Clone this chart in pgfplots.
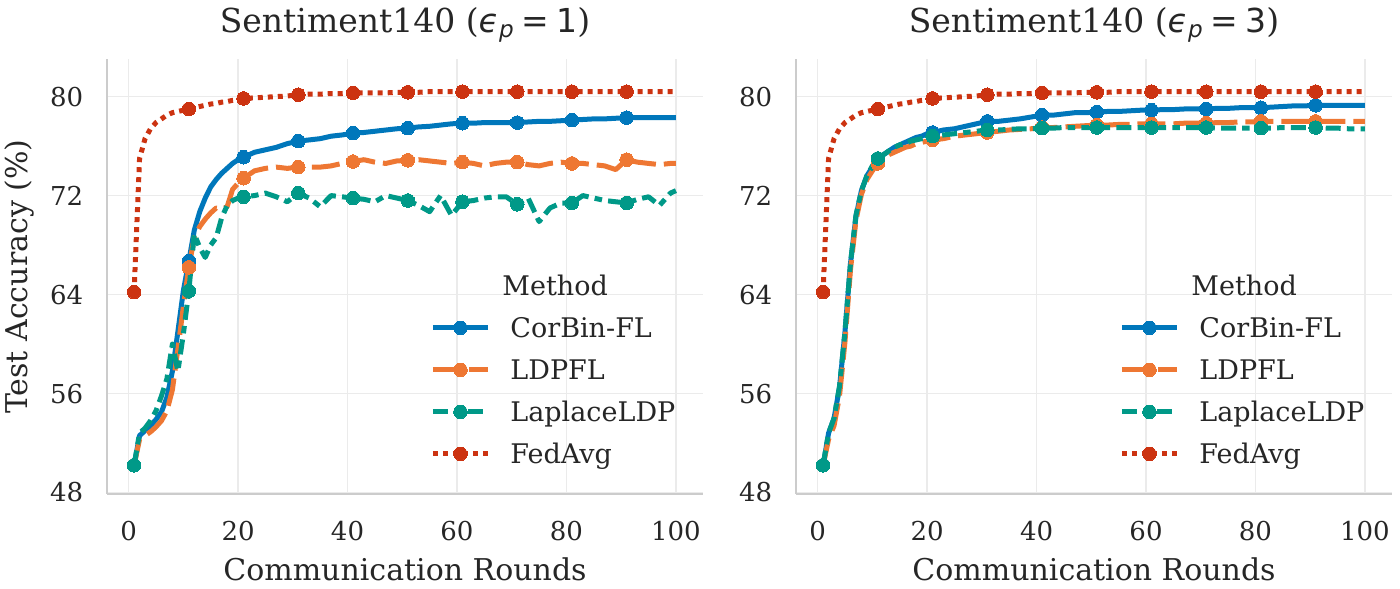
\documentclass[border=0pt]{standalone}
\usepackage{pgfplots}
\pgfplotsset{compat=1.18}
\usepackage{pgfplotstable}
\usepackage{fontspec}
\setmainfont{DejaVu Serif}
\newfontfamily\mathsans{DejaVu Sans}

\definecolor{cbBlue}{HTML}{0077BB}
\definecolor{cbOrange}{HTML}{EE7733}
\definecolor{cbTeal}{HTML}{009988}
\definecolor{cbRed}{HTML}{CC3311}
\definecolor{gridgray}{HTML}{EBEBEB}
\definecolor{spinegray}{HTML}{CCCCCC}
\definecolor{txt}{HTML}{262626}

% test accuracy (%) per communication round, eps_p = 1
\pgfplotstableread{
r fa cb ld la
1 64.2 50.2 50.2 50.2
2 75.0 52.6 52.3 52.8
3 76.6 53.0 52.6 53.2
4 77.4 53.4 52.9 53.8
5 77.9 53.9 53.3 54.6
6 78.2 54.5 53.8 55.8
7 78.5 55.7 54.6 57.2
8 78.7 57.8 56.3 60.0
9 78.8 61.0 59.6 57.8
10 78.9 64.3 63.0 60.8
11 79.0 66.7 66.2 64.3
12 79.1 69.2 68.6 68.9
13 79.2 70.7 69.5 67.8
14 79.3 71.8 70.1 67.0
15 79.4 72.7 70.6 68.0
16 79.45 73.3 71.0 68.6
17 79.55 73.8 70.9 70.2
18 79.6 74.2 71.1 71.2
19 79.7 74.6 72.5 71.6
20 79.75 74.9 73.0 71.8
21 79.85 75.1 73.4 71.9
23 79.9 75.5 74.0 72.0
25 79.95 75.7 74.2 72.2
27 80.0 75.9 74.3 71.9
29 80.05 76.2 74.2 71.5
31 80.15 76.4 74.3 72.2
33 80.2 76.5 74.3 71.8
35 80.2 76.6 74.3 71.1
37 80.25 76.8 74.4 72.0
39 80.25 76.9 74.6 71.9
41 80.3 77.05 74.75 71.8
43 80.3 77.1 74.9 71.7
45 80.3 77.2 74.7 71.5
47 80.3 77.3 74.6 72.0
49 80.35 77.4 74.8 71.8
51 80.35 77.45 74.85 71.6
53 80.35 77.55 74.9 71.2
55 80.4 77.6 74.8 70.7
57 80.4 77.7 74.7 72.0
59 80.4 77.8 74.6 70.4
61 80.4 77.85 74.7 71.5
63 80.4 77.85 74.6 71.6
65 80.4 77.9 74.4 71.8
67 80.4 77.9 74.6 71.9
69 80.4 77.9 74.7 71.9
71 80.4 77.9 74.7 71.3
73 80.4 77.95 74.5 71.8
75 80.4 78.0 74.4 69.9
77 80.4 78.0 74.6 71.0
79 80.4 78.05 74.7 71.4
81 80.4 78.1 74.6 71.4
83 80.4 78.15 74.6 72.0
85 80.4 78.2 74.5 71.8
87 80.4 78.2 74.4 71.6
89 80.4 78.25 74.1 71.5
91 80.4 78.3 74.9 71.4
93 80.4 78.3 74.7 71.7
95 80.4 78.3 74.6 71.9
97 80.4 78.3 74.5 71.2
99 80.4 78.3 74.6 72.2
100 80.4 78.3 74.6 72.4
}\epsone

% test accuracy (%) per communication round, eps_p = 3
\pgfplotstableread{
r fa cb ld la
1 64.2 50.2 50.2 50.2
2 75.0 52.8 52.3 52.8
3 76.6 54.0 53.4 54.0
4 77.4 56.5 55.8 56.6
5 77.9 61.0 60.2 61.0
6 78.2 66.5 66.0 66.5
7 78.5 70.3 70.0 70.4
8 78.7 72.4 72.1 72.4
9 78.8 73.6 73.3 73.6
10 78.9 74.3 74.0 74.4
11 79.0 74.9 74.6 75.0
12 79.1 75.3 75.0 75.3
13 79.2 75.6 75.3 75.6
14 79.3 75.9 75.5 75.9
15 79.4 76.1 75.7 76.1
16 79.45 76.3 75.9 76.2
17 79.55 76.5 76.0 76.4
18 79.6 76.7 76.2 76.5
19 79.7 76.8 76.3 76.6
20 79.75 77.0 76.4 76.7
21 79.85 77.1 76.5 76.8
23 79.9 77.3 76.6 76.9
25 79.95 77.4 76.8 77.0
27 80.0 77.6 76.9 77.1
29 80.05 77.8 77.0 77.2
31 80.15 78.0 77.1 77.3
33 80.2 78.0 77.2 77.3
35 80.2 78.1 77.3 77.35
37 80.25 78.2 77.35 77.4
39 80.25 78.35 77.4 77.4
41 80.3 78.5 77.5 77.45
43 80.3 78.5 77.5 77.45
45 80.3 78.6 77.55 77.5
47 80.3 78.7 77.6 77.5
49 80.35 78.7 77.65 77.5
51 80.35 78.75 77.7 77.5
53 80.35 78.8 77.7 77.5
55 80.4 78.8 77.75 77.5
57 80.4 78.85 77.75 77.5
59 80.4 78.9 77.8 77.5
61 80.4 78.9 77.8 77.5
63 80.4 78.95 77.8 77.5
65 80.4 78.95 77.8 77.5
67 80.4 79.0 77.85 77.5
69 80.4 79.0 77.85 77.5
71 80.4 79.0 77.85 77.5
73 80.4 79.05 77.9 77.45
75 80.4 79.05 77.9 77.45
77 80.4 79.1 77.95 77.45
79 80.4 79.1 77.95 77.45
81 80.4 79.1 78.0 77.45
83 80.4 79.15 78.0 77.45
85 80.4 79.2 78.0 77.5
87 80.4 79.25 78.0 77.5
89 80.4 79.25 78.0 77.5
91 80.4 79.3 78.0 77.5
93 80.4 79.3 78.0 77.45
95 80.4 79.3 78.0 77.45
97 80.4 79.3 78.0 77.4
99 80.4 79.3 78.0 77.4
100 80.4 79.3 78.0 77.4
}\epsthree

\pgfplotsset{
  panel/.style={
    width=298pt, height=217.25pt, scale only axis,
    xmin=-3.95, xmax=104.95, ymin=47.88, ymax=83,
    xtick={0,20,...,100}, ytick={48,56,...,80},
    axis x line*=bottom, axis y line*=left,
    axis line style={spinegray, line width=1.25pt, -},
    major tick length=0pt,
    grid=major, major grid style={gridgray, line width=0.8pt},
    /pgf/number format/assume math mode=true,
    tick label style={font=\fontsize{13}{15}\selectfont, text=txt},
    xticklabel style={anchor=north, inner sep=0pt, yshift=-13.5pt},
    yticklabel style={anchor=east, inner sep=0pt, xshift=-11.7pt},
    xlabel={Communication Rounds},
    xlabel style={at={(axis description cs:0.5,-0.2002)}, anchor=base,
      inner sep=0pt, font=\fontsize{15}{17}\selectfont, text=txt},
    title style={at={(axis description cs:0.5,1)}, anchor=base, yshift=7.5pt,
      inner sep=0pt, font=\fontsize{16.5}{19}\selectfont, text=txt},
    legend style={at={(0.542,0.503)}, anchor=north west, draw=none, fill=none,
      inner sep=0pt, row sep=8pt, column sep=10pt,
      font=\fontsize{13.5}{15}\selectfont, text=txt,
      nodes={inner sep=0pt, text height=10pt, text depth=3pt}},
    legend cell align=left,
    legend image code/.code={\draw[#1, mark indices={2}]
      plot coordinates {(0pt,1.5pt) (13.75pt,1.5pt) (27.5pt,1.5pt)};},
    every axis plot/.append style={line width=2.5pt, line join=round,
      mark=*, mark size=3.4pt, mark options={solid, line width=0pt},
      mark indices={1,11,21,26,31,36,41,46,51,56}},
  },
  corbin/.style={cbBlue},
  ldpfl/.style={cbOrange, dash pattern=on 14pt off 4pt},
  laplace/.style={cbTeal, dash pattern=on 7.5pt off 3.1pt on 3.75pt off 3.1pt},
  fedavg/.style={cbRed, dash pattern=on 2.5pt off 2.5pt},
}

\newcommand{\epstitle}[1]{Sentiment140 ({\mathsans\itshape ϵ\textsubscript{p}}\hspace{3.5pt}{\mathsans=\hspace{3.5pt}#1})}

\begin{document}
\begin{tikzpicture}
\useasboundingbox (0,0) rectangle (700pt,294pt);

\begin{axis}[panel, at={(53.5pt,47pt)}, anchor=south west,
  title={\epstitle{1}},
  ylabel={Test Accuracy (\%)},
  ylabel style={at={(axis description cs:-0.1326,0.5)}, anchor=base,
    inner sep=0pt, font=\fontsize{15}{17}\selectfont, text=txt}]
\addlegendimage{empty legend}
\addlegendentry{\hspace{-4pt}Method}
\addplot[corbin] table[x=r, y=cb] {\epsone};
\addlegendentry{CorBin-FL}
\addplot[ldpfl] table[x=r, y=ld] {\epsone};
\addlegendentry{LDPFL}
\addplot[laplace] table[x=r, y=la] {\epsone};
\addlegendentry{LaplaceLDP}
\addplot[fedavg] table[x=r, y=fa] {\epsone};
\addlegendentry{FedAvg}
\end{axis}

\begin{axis}[panel, at={(398pt,47pt)}, anchor=south west,
  title={\epstitle{3}}]
\addlegendimage{empty legend}
\addlegendentry{\hspace{-4pt}Method}
\addplot[corbin] table[x=r, y=cb] {\epsthree};
\addlegendentry{CorBin-FL}
\addplot[ldpfl] table[x=r, y=ld] {\epsthree};
\addlegendentry{LDPFL}
\addplot[laplace] table[x=r, y=la] {\epsthree};
\addlegendentry{LaplaceLDP}
\addplot[fedavg] table[x=r, y=fa] {\epsthree};
\addlegendentry{FedAvg}
\end{axis}
\end{tikzpicture}
\end{document}
